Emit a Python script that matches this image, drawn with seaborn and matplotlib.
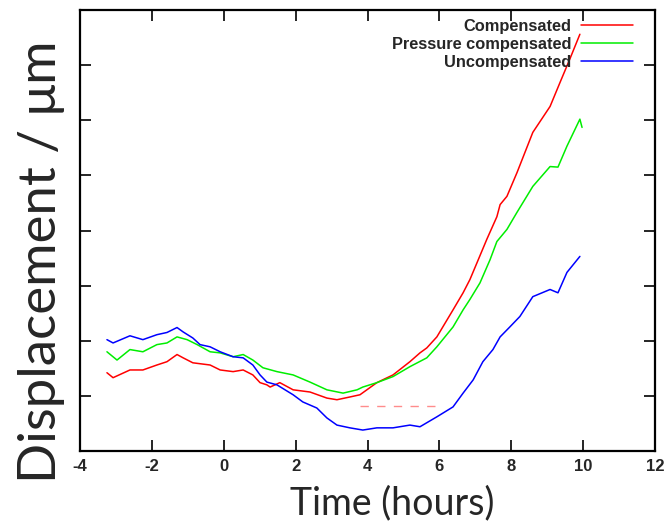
import numpy as np
import pandas as pd
import matplotlib
matplotlib.use("Agg")
import matplotlib.pyplot as plt
import seaborn as sns

# ---- data ----
comp_t = [-3.25, -3.08, -2.61, -2.25, -1.86, -1.58, -1.30, -1.13, -0.86, -0.38, -0.10,
          0.26, 0.54, 0.81, 1.01, 1.20, 1.29, 1.56, 1.93, 2.40, 2.87, 3.15, 3.51, 3.79,
          4.26, 4.71, 5.18, 5.46, 5.65, 5.93, 6.38, 6.66, 6.85, 7.05, 7.32, 7.60, 7.69,
          7.88, 8.16, 8.60, 9.08, 9.36, 9.63, 9.91]
comp_y = [1.42, 1.33, 1.47, 1.47, 1.56, 1.62, 1.75, 1.69, 1.60, 1.56, 1.47,
          1.44, 1.47, 1.38, 1.24, 1.20, 1.16, 1.24, 1.11, 1.07, 0.96, 0.93, 0.98, 1.02,
          1.24, 1.38, 1.62, 1.78, 1.87, 2.07, 2.56, 2.87, 3.11, 3.42, 3.84, 4.25, 4.47,
          4.62, 5.05, 5.78, 6.25, 6.69, 7.11, 7.56]

press_t = [-3.25, -2.97, -2.61, -2.25, -1.86, -1.58, -1.30, -1.02, -0.74, -0.38, -0.10,
           0.26, 0.54, 0.81, 1.09, 1.48, 1.93, 2.40, 2.87, 3.32, 3.71, 3.87, 4.26, 4.71,
           5.18, 5.65, 5.93, 6.38, 6.66, 6.85, 7.13, 7.41, 7.60, 7.88, 8.16, 8.60, 9.08,
           9.30, 9.55, 9.91, 9.97]
press_y = [1.80, 1.65, 1.84, 1.80, 1.93, 1.96, 2.07, 2.02, 1.93, 1.80, 1.78,
           1.71, 1.75, 1.65, 1.51, 1.44, 1.38, 1.25, 1.11, 1.05, 1.11, 1.16, 1.24, 1.35,
           1.53, 1.69, 1.89, 2.25, 2.56, 2.75, 3.05, 3.47, 3.80, 4.02, 4.33, 4.80, 5.16,
           5.15, 5.53, 6.02, 5.87]

uncomp_t = [-3.25, -3.08, -2.61, -2.25, -1.86, -1.58, -1.30, -1.13, -0.86, -0.66, -0.38,
            -0.10, 0.26, 0.54, 0.81, 1.01, 1.20, 1.48, 1.93, 2.20, 2.59, 2.87, 3.15, 3.51,
            3.87, 4.26, 4.71, 5.18, 5.46, 5.93, 6.38, 6.66, 6.94, 7.21, 7.49, 7.69, 7.96,
            8.24, 8.60, 9.08, 9.30, 9.55, 9.91]
uncomp_y = [2.02, 1.96, 2.09, 2.02, 2.11, 2.15, 2.24, 2.16, 2.05, 1.93, 1.89,
            1.80, 1.71, 1.69, 1.56, 1.38, 1.25, 1.20, 1.02, 0.89, 0.78, 0.60, 0.47, 0.42,
            0.38, 0.42, 0.42, 0.47, 0.44, 0.62, 0.80, 1.05, 1.29, 1.62, 1.84, 2.07, 2.25,
            2.44, 2.80, 2.93, 2.87, 3.24, 3.53]

# faint broken red trace near the bottom
trace_t = [3.80, 6.00]
trace_y = [0.82, 0.82]

series_names = ["Compensated", "Pressure compensated", "Uncompensated"]
series_colors = ["#ff0000", "#00ee00", "#0000ff"]
xticks = [-4, -2, 0, 2, 4, 6, 8, 10, 12]
yticks = [0, 1, 2, 3, 4, 5, 6, 7, 8]

df = pd.concat([
    pd.DataFrame({"t": comp_t, "d": comp_y, "s": series_names[0]}),
    pd.DataFrame({"t": press_t, "d": press_y, "s": series_names[1]}),
    pd.DataFrame({"t": uncomp_t, "d": uncomp_y, "s": series_names[2]}),
], ignore_index=True)

sns.set_theme(style="white")
plt.rcParams["font.family"] = ["DejaVu Sans"]

fig = plt.figure(figsize=(6.68, 5.21), dpi=100)
ax = fig.add_axes([80 / 668, 1 - 451 / 521, 575 / 668, 441 / 521])

sns.lineplot(data=df, x="t", y="d", hue="s", hue_order=series_names,
             palette=dict(zip(series_names, series_colors)),
             estimator=None, sort=False, linewidth=1.1, ax=ax)
ax.plot(trace_t, trace_y, color="#ff0000", lw=1.0, alpha=0.45,
        linestyle=(0, (6, 6)))

ax.set_xlim(-4, 12)
ax.set_ylim(0, 8)
ax.set_xticks(xticks)
ax.set_yticks(yticks)
ax.set_yticklabels([])
ax.set_xticklabels([str(v) for v in xticks], fontsize=12, fontweight="bold",
                   fontfamily="Liberation Sans")
ax.tick_params(axis="both", direction="in", length=8, width=1.2, color="black",
               top=True, right=True, bottom=True, left=True, pad=6)
for sp in ax.spines.values():
    sp.set_color("black")
    sp.set_linewidth(1.6)

ax.set_xlabel("Time (hours)", fontsize=27, fontfamily="Lato")
ax.set_ylabel("Displacement / μm", fontsize=38, fontfamily="Lato")
ax.xaxis.set_label_coords((392 - 80) / 575, -0.077)
ax.yaxis.set_label_coords((65 - 80) / 575, (451 - 262) / 441)

leg = ax.legend(loc="upper right", bbox_to_anchor=((633 - 80) / 575, (451 - 19) / 441),
                frameon=False, markerfirst=False, handlelength=3.2, handletextpad=0.55,
                labelspacing=0.17, borderaxespad=0, borderpad=0,
                prop={"family": "Liberation Sans", "weight": "bold", "size": 11.8})

fig.savefig("out.png", dpi=100)
